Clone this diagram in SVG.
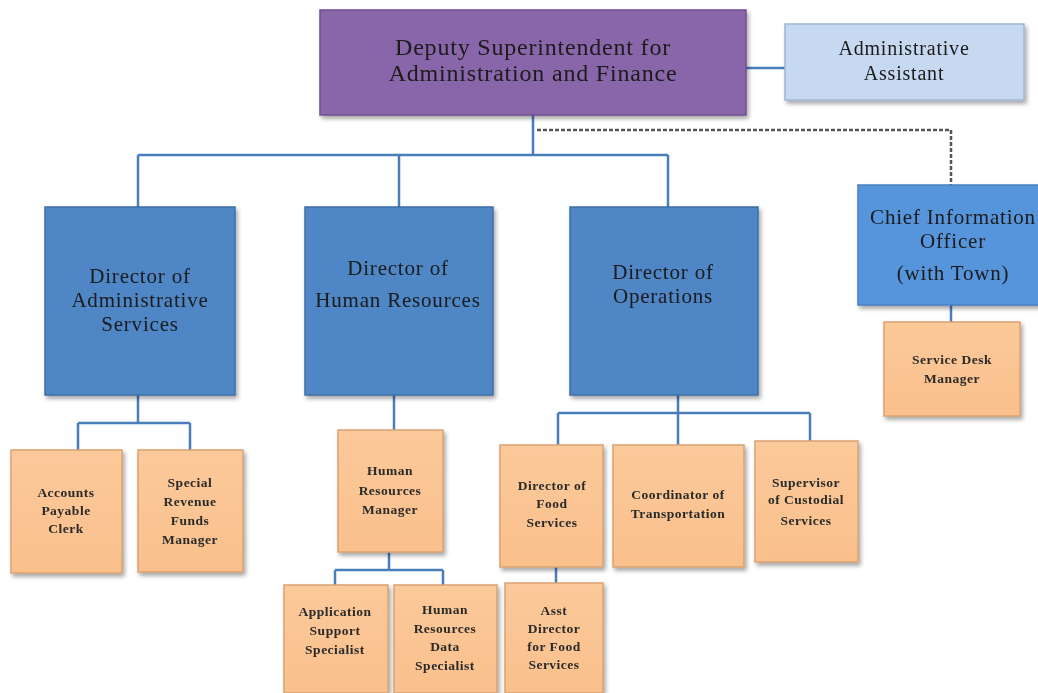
<svg xmlns="http://www.w3.org/2000/svg" width="1038" height="693" viewBox="0 0 1038 693">
<defs>
<filter id="sh" x="-10%" y="-10%" width="130%" height="130%">
<feDropShadow dx="2" dy="3" stdDeviation="2" flood-color="#000" flood-opacity="0.35"/>
</filter>
<linearGradient id="gOr" x1="0" y1="0" x2="0" y2="1">
<stop offset="0" stop-color="#fcc99a"/><stop offset="1" stop-color="#f9c08c"/>
</linearGradient>
</defs>
<style>
.t{font-family:"Liberation Serif","DejaVu Serif",serif;fill:#1a1a1a;text-anchor:middle}
.big{font-size:24px;letter-spacing:0.8px}
.as{font-size:20px;letter-spacing:0.8px}
.mid{font-size:21px;letter-spacing:0.8px}
.sm{font-size:13.5px;font-weight:bold;fill:#2a2a2a;letter-spacing:0.5px}
.purple{fill:#8866a9;stroke:#6f4f8f;stroke-width:1.5}
.asst{fill:#c6d9f1;stroke:#9fb6d4;stroke-width:1.5}
.dir{fill:#4f86c6;stroke:#3f6ea6;stroke-width:1.5}
.cio{fill:#5795dc;stroke:#4a7fc0;stroke-width:1.5}
.or{fill:url(#gOr);stroke:#d9a271;stroke-width:1.5}
.ln{fill:none;stroke:#4a7ebb;stroke-width:2.5}
.dash{fill:none;stroke:#555;stroke-width:2.5;stroke-dasharray:4 2}
</style>
<g id="connectors">
<path class="ln" d="M746 68 H785"/>
<path class="ln" d="M533 115 V155 M138 155 H668 M138 155 V207 M399 155 V207 M668 155 V207"/>
<path class="dash" d="M537 130 H951 V185"/>
<path class="ln" d="M951 305 V322"/>
<path class="ln" d="M138 395 V423 M78 423 H190 M78 423 V450 M190 423 V450"/>
<path class="ln" d="M394 395 V430"/>
<path class="ln" d="M389 552 V570 M335 570 H443 M335 570 V585 M443 570 V585"/>
<path class="ln" d="M678 395 V413 M558 413 H810 M558 413 V445 M678 413 V445 M810 413 V441"/>
<path class="ln" d="M556 567 V583"/>
</g>
<g id="deputy" filter="url(#sh)">
<rect class="purple" x="320" y="10" width="426" height="105"/>
<text class="t big" x="533" y="55">Deputy Superintendent for</text>
<text class="t big" x="533" y="81">Administration and Finance</text>
</g>
<g id="admin-assistant" filter="url(#sh)">
<rect class="asst" x="785" y="24" width="239" height="76"/>
<text class="t as" x="904" y="55">Administrative</text>
<text class="t as" x="904" y="80">Assistant</text>
</g>
<g id="dir-admin" filter="url(#sh)">
<rect class="dir" x="45" y="207" width="190" height="188"/>
<text class="t mid" x="140" y="283">Director of</text>
<text class="t mid" x="140" y="307">Administrative</text>
<text class="t mid" x="140" y="331">Services</text>
</g>
<g id="dir-hr" filter="url(#sh)">
<rect class="dir" x="305" y="207" width="188" height="188"/>
<text class="t mid" x="398" y="275">Director of</text>
<text class="t mid" x="398" y="307">Human Resources</text>
</g>
<g id="dir-ops" filter="url(#sh)">
<rect class="dir" x="570" y="207" width="188" height="188"/>
<text class="t mid" x="663" y="279">Director of</text>
<text class="t mid" x="663" y="303">Operations</text>
</g>
<g id="cio" filter="url(#sh)">
<rect class="cio" x="858" y="185" width="190" height="120"/>
<text class="t mid" x="953" y="224">Chief Information</text>
<text class="t mid" x="953" y="248">Officer</text>
<text class="t mid" x="953" y="280">(with Town)</text>
</g>
<g id="service-desk" filter="url(#sh)">
<rect class="or" x="884" y="322" width="136" height="94"/>
<text class="t sm" x="952" y="364">Service Desk</text>
<text class="t sm" x="952" y="383">Manager</text>
</g>
<g id="accounts-payable" filter="url(#sh)">
<rect class="or" x="11" y="450" width="111" height="123"/>
<text class="t sm" x="66" y="497">Accounts</text>
<text class="t sm" x="66" y="515">Payable</text>
<text class="t sm" x="66" y="533">Clerk</text>
</g>
<g id="special-revenue" filter="url(#sh)">
<rect class="or" x="138" y="450" width="105" height="122"/>
<text class="t sm" x="190" y="487">Special</text>
<text class="t sm" x="190" y="506">Revenue</text>
<text class="t sm" x="190" y="525">Funds</text>
<text class="t sm" x="190" y="544">Manager</text>
</g>
<g id="hr-manager" filter="url(#sh)">
<rect class="or" x="338" y="430" width="105" height="122"/>
<text class="t sm" x="390" y="475">Human</text>
<text class="t sm" x="390" y="495">Resources</text>
<text class="t sm" x="390" y="514">Manager</text>
</g>
<g id="app-support" filter="url(#sh)">
<rect class="or" x="284" y="585" width="104" height="108"/>
<text class="t sm" x="335" y="616">Application</text>
<text class="t sm" x="335" y="635">Support</text>
<text class="t sm" x="335" y="654">Specialist</text>
</g>
<g id="hr-data" filter="url(#sh)">
<rect class="or" x="394" y="585" width="103" height="108"/>
<text class="t sm" x="445" y="614">Human</text>
<text class="t sm" x="445" y="633">Resources</text>
<text class="t sm" x="445" y="651">Data</text>
<text class="t sm" x="445" y="670">Specialist</text>
</g>
<g id="dir-food" filter="url(#sh)">
<rect class="or" x="500" y="445" width="103" height="122"/>
<text class="t sm" x="552" y="490">Director of</text>
<text class="t sm" x="552" y="508">Food</text>
<text class="t sm" x="552" y="527">Services</text>
</g>
<g id="coord-transport" filter="url(#sh)">
<rect class="or" x="613" y="445" width="131" height="122"/>
<text class="t sm" x="678" y="499">Coordinator of</text>
<text class="t sm" x="678" y="518">Transportation</text>
</g>
<g id="sup-custodial" filter="url(#sh)">
<rect class="or" x="755" y="441" width="103" height="121"/>
<text class="t sm" x="806" y="487">Supervisor</text>
<text class="t sm" x="806" y="504">of Custodial</text>
<text class="t sm" x="806" y="525">Services</text>
</g>
<g id="asst-food" filter="url(#sh)">
<rect class="or" x="505" y="583" width="98" height="110"/>
<text class="t sm" x="554" y="615">Asst</text>
<text class="t sm" x="554" y="633">Director</text>
<text class="t sm" x="554" y="651">for Food</text>
<text class="t sm" x="554" y="669">Services</text>
</g>
</svg>
